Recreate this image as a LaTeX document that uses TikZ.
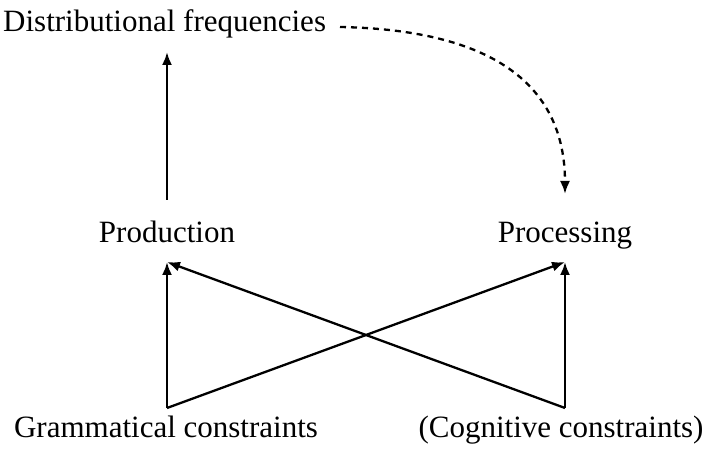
\documentclass[tikz,border=0pt]{standalone}
\usepackage{fontspec}
\setmainfont{Liberation Serif}
\usetikzlibrary{arrows.meta}
\begin{document}
\begin{tikzpicture}[x=1pt,y=-1pt,
  label/.style={inner sep=0pt,anchor=base,font=\fontsize{31}{36}\selectfont},
  arr/.style={line width=2.3pt,-{Latex[length=13pt,width=10pt]}},
  dasharr/.style={arr,dash pattern=on 6pt off 5pt}]
\useasboundingbox (0,0) rectangle (712,454);
% labels
\node[label,anchor=base west] (dist) at (3,32) {Distributional frequencies};
\node[label] (prod) at (167,243) {Production};
\node[label] (proc) at (565,243) {Processing};
\node[label] (gram) at (166,437) {Grammatical constraints};
\node[label] (cogn) at (561,437) {(Cognitive constraints)};
% attachment points
\coordinate (prodTop) at (167,200);
\coordinate (distBot) at (167,52);
\coordinate (distEnd) at (340,27);
\coordinate (procTop) at (565,194);
\coordinate (prodIn) at (167,262);
\coordinate (procIn) at (565,262);
\coordinate (gramOut) at (167,408);
\coordinate (cognOut) at (565,408);
% connectors
\draw[arr] (prodTop) -- (distBot);
\draw[dasharr] (distEnd) .. controls (500,30) and (565,90) .. (procTop);
\draw[arr] (gramOut) -- (prodIn);
\draw[arr] (gramOut) -- (procIn);
\draw[arr] (cognOut) -- (procIn);
\draw[arr] (cognOut) -- (prodIn);
\end{tikzpicture}
\end{document}
